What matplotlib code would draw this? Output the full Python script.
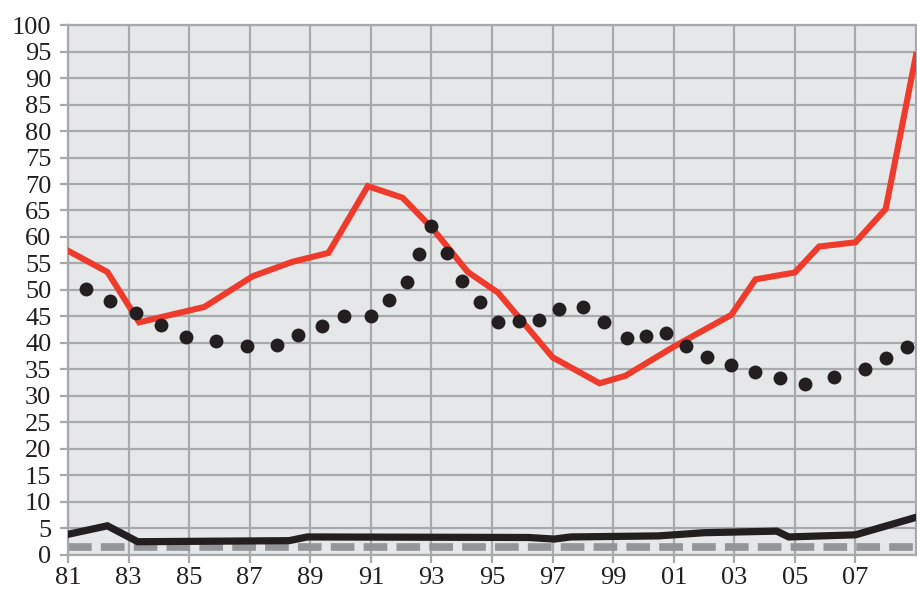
import matplotlib
matplotlib.use("Agg")
from matplotlib import pyplot as plt
import numpy as np

# red series (solid)
red_x = [81.0, 82.3, 83.35, 85.5, 87.1, 88.4, 89.6, 90.9, 92.05, 93.05, 94.2, 95.2,
         97.0, 98.55, 99.4, 101.0, 102.9, 103.7, 105.0, 105.8, 107.0, 108.0, 109.0]
red_y = [57.4, 53.4, 43.9, 46.8, 52.6, 55.3, 57.0, 69.6, 67.4, 61.5, 53.4, 49.5,
         37.3, 32.4, 33.8, 39.3, 45.3, 52.0, 53.3, 58.2, 59.0, 65.3, 94.3]

# black dotted series
dot_x = [81.58, 82.4, 83.25, 84.07, 84.9, 85.9, 86.9, 87.9, 88.6, 89.4, 90.1, 91.0,
         91.6, 92.2, 92.6, 93.0, 93.5, 94.0, 94.6, 95.2, 95.9, 96.55, 97.2, 98.0,
         98.7, 99.45, 100.1, 100.75, 101.4, 102.1, 102.9, 103.7, 104.5, 105.35,
         106.3, 107.3, 108.0, 108.7]
dot_y = [50.1, 47.9, 45.6, 43.4, 41.2, 40.4, 39.5, 39.7, 41.5, 43.2, 45.1, 45.0,
         48.2, 51.5, 56.8, 62.1, 56.9, 51.7, 47.8, 44.0, 44.2, 44.3, 46.5, 46.7,
         43.9, 40.9, 41.4, 41.9, 39.5, 37.3, 35.8, 34.5, 33.3, 32.3,
         33.6, 35.0, 37.1, 39.3]

# black solid series near the bottom
black_x = [81.0, 82.3, 83.3, 88.3, 88.9, 96.2, 97.05, 97.6, 100.5, 102.0, 104.4,
           104.8, 107.0, 109.0]
black_y = [3.9, 5.5, 2.5, 2.7, 3.4, 3.3, 3.0, 3.4, 3.6, 4.2, 4.5, 3.4, 3.8, 7.1]

# gray dashed reference level
ref_level = 1.5

x_ticks = list(range(81, 109, 2))
x_labels = ["%02d" % (t % 100) for t in x_ticks]
y_ticks = list(range(0, 101, 5))

grid_col = "#a7a9ac"

fig = plt.figure(figsize=(9.17, 5.97), dpi=100)
ax = fig.add_axes([0.0742, 0.0704, 0.9247, 0.8877])
ax.set_facecolor("#e6e7e8")

ax.axhline(ref_level, color="#939598", lw=5.5, dashes=(3.1, 1.2),
           solid_capstyle="butt", dash_capstyle="butt", zorder=2)
ax.plot(black_x, black_y, color="#231f20", lw=5.2, solid_joinstyle="miter", zorder=3)
ax.plot(red_x, red_y, color="#ef3b2c", lw=4.4, solid_joinstyle="miter", zorder=4)
ax.plot(dot_x, dot_y, "o", color="#231f20", ms=10, mec="none", zorder=5)

ax.set_xlim(81, 109)
ax.set_ylim(0, 100)
ax.set_xticks(x_ticks)
ax.set_xticklabels(x_labels)
ax.set_yticks(y_ticks)
ax.grid(True, color=grid_col, lw=1.6, zorder=1)
ax.set_axisbelow(True)

for s in ax.spines.values():
    s.set_color(grid_col)
    s.set_linewidth(1.6)

ax.tick_params(axis="both", color=grid_col, width=1.6, length=6,
               labelsize=19, labelcolor="#231f20")
ax.tick_params(axis="y", pad=6)
ax.tick_params(axis="x", pad=3)
for lab in ax.get_xticklabels() + ax.get_yticklabels():
    lab.set_family("Liberation Serif")

fig.savefig("out.png", dpi=100)
